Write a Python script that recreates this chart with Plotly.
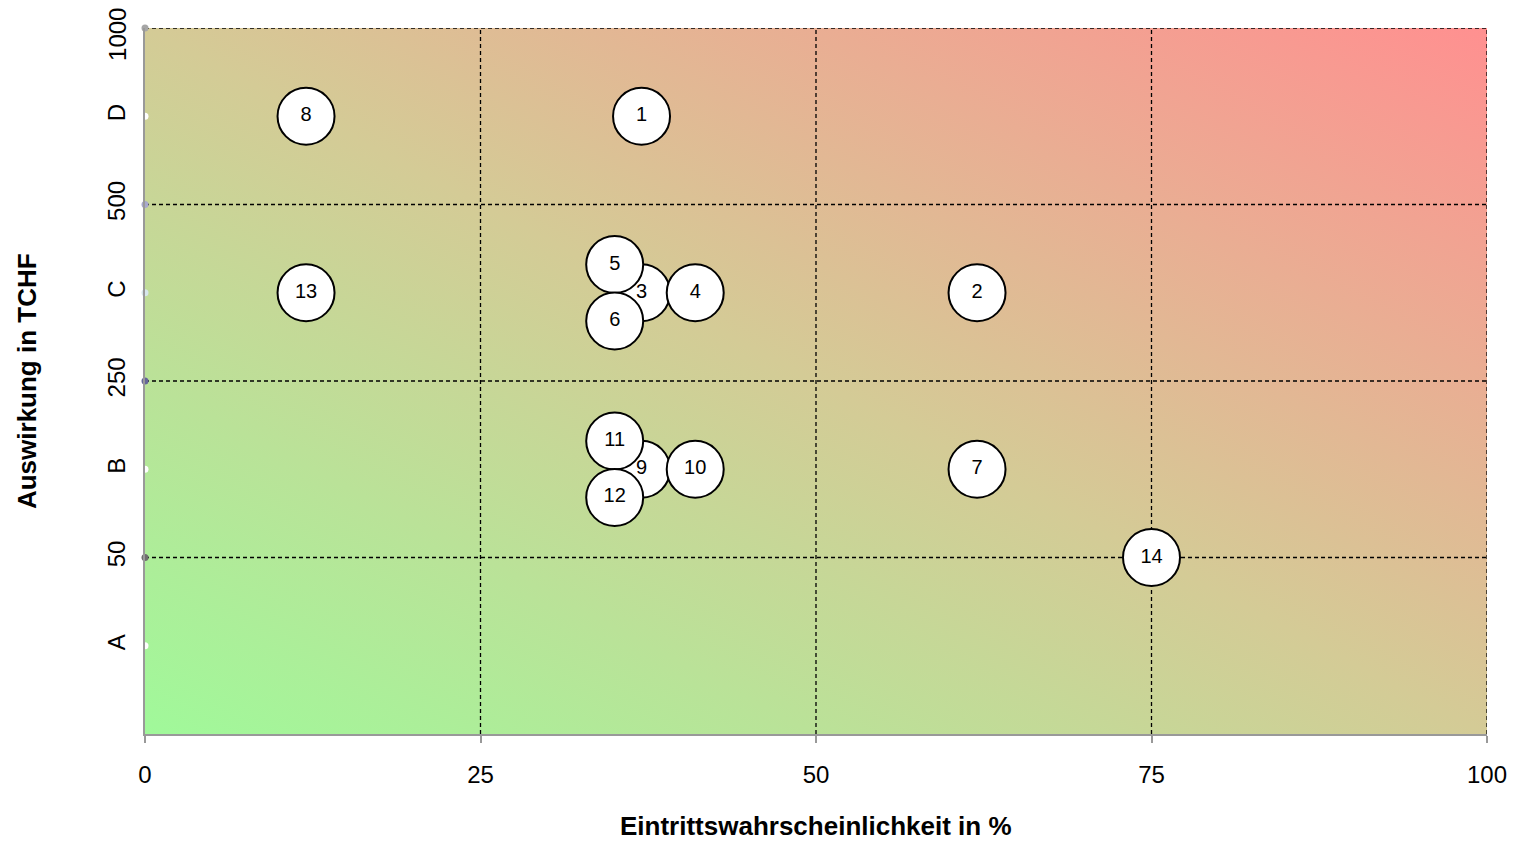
import base64
import plotly.graph_objects as go

# ---- data ----
risk_ids = ["1", "2", "3", "4", "5", "6", "7", "8", "9", "10", "11", "12", "13", "14"]
probability = [37, 62, 37, 41, 35, 35, 62, 12, 37, 41, 35, 35, 12, 75]
impact = [3.5, 2.5, 2.5, 2.5, 2.66, 2.34, 1.5, 3.5, 1.5, 1.5, 1.66, 1.34, 2.5, 1.0]

x_ticks = [0, 25, 50, 75, 100]
x_ticktext = ["0", "25", "50", "75", "100"]
y_ticks = [0.5, 1, 1.5, 2, 2.5, 3, 3.5, 4]
y_ticktext = ["A", "50", "B", "250", "C", "500", "D", "1000"]
y_tick_dot_colors = ["#ffffff", "#6e6e6e", "#ffffff", "#666699", "#d6e6ea", "#a8a8cc", "#ffffff", "#a6a6a6"]
x_grid = [25, 50, 75, 100]
y_grid = [1, 2, 3, 4]
x_range = [0, 100]
y_range = [0, 4]

x_title = "Eintrittswahrscheinlichkeit in %"
y_title = "Auswirkung in TCHF"

FONT = "Liberation Sans, Arial, sans-serif"

# gradient background as SVG
svg = ("<svg xmlns='http://www.w3.org/2000/svg' width='100' height='100' viewBox='0 0 100 100' "
       "preserveAspectRatio='none'><defs><linearGradient id='g' x1='0' y1='1' x2='1' y2='0'>"
       "<stop offset='0' stop-color='#a0f99a'/><stop offset='0.5' stop-color='#d4cb96'/>"
       "<stop offset='1' stop-color='#ff9090'/></linearGradient></defs>"
       "<rect width='100' height='100' fill='url(#g)'/></svg>")
svg_uri = "data:image/svg+xml;base64," + base64.b64encode(svg.encode()).decode()

# gridline coordinates built from grid positions
gx, gy = [], []
for xv in x_grid:
    gx += [xv, xv, None]
    gy += [y_range[0], y_range[1], None]
for yv in y_grid:
    gx += [x_range[0], x_range[1], None]
    gy += [yv, yv, None]

fig = go.Figure()
fig.add_trace(go.Scatter(
    x=gx, y=gy, mode="lines",
    line=dict(color="black", width=1.3, dash="4px,3px"),
    hoverinfo="skip", showlegend=False,
))
fig.add_trace(go.Scatter(
    x=[0] * len(y_ticks), y=y_ticks, mode="markers",
    marker=dict(size=7, color=y_tick_dot_colors, line=dict(width=0)),
    cliponaxis=False, hoverinfo="skip", showlegend=False,
))
fig.add_trace(go.Scatter(
    x=probability, y=impact, mode="markers+text",
    text=risk_ids, textposition="middle center",
    textfont=dict(family=FONT, size=20, color="black"),
    marker=dict(size=57, color="white", line=dict(color="black", width=2)),
    cliponaxis=False, showlegend=False,
))

fig.update_layout(
    width=1525, height=841,
    margin=dict(l=145, r=38, t=28, b=107),
    paper_bgcolor="white", plot_bgcolor="white",
    font=dict(family=FONT, size=24, color="black"),
    images=[dict(source=svg_uri, xref="x", yref="y", x=x_range[0], y=y_range[1],
                 sizex=x_range[1] - x_range[0], sizey=y_range[1] - y_range[0],
                 xanchor="left", yanchor="top", sizing="stretch", layer="below")],
    xaxis=dict(range=x_range, tickvals=x_ticks, ticktext=x_ticktext, automargin=False,
               showgrid=False, zeroline=False, showline=True, linecolor="#999999", linewidth=2,
               ticks="outside", ticklen=7, tickcolor="#999999", tickwidth=1.5,
               tickfont=dict(size=24), ticklabelstandoff=11, ticklabeloverflow="allow"),
    yaxis=dict(range=y_range, tickvals=y_ticks[:-1], ticktext=y_ticktext[:-1], tickangle=-90,
               automargin=False,
               showgrid=False, zeroline=False, showline=True, linecolor="#999999", linewidth=2,
               ticks="", tickfont=dict(size=24), ticklabelstandoff=8, ticklabeloverflow="allow"),
    annotations=[
        dict(text=y_ticktext[-1], xref="paper", yref="y", x=-0.0209, y=y_ticks[-1], yshift=-6,
             showarrow=False, font=dict(size=24), textangle=-90, xanchor="center", yanchor="middle"),
        dict(text="<b>" + x_title + "</b>", xref="paper", yref="paper", x=0.5, y=-0.1303,
             showarrow=False, font=dict(size=26), xanchor="center", yanchor="middle"),
        dict(text="<b>" + y_title + "</b>", xref="paper", yref="paper", x=-0.0879, y=0.5,
             showarrow=False, font=dict(size=26), textangle=-90, xanchor="center", yanchor="middle"),
    ],
)

fig.write_html("out.html", config={"displayModeBar": False},
               post_script="document.body.style.margin='0';document.body.style.overflow='hidden';")
